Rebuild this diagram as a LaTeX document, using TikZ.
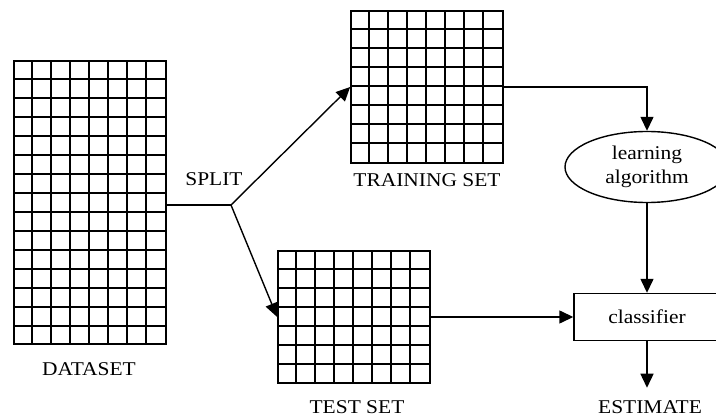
\documentclass[tikz,border=0pt]{standalone}
\usepackage{fontspec}
\setmainfont{Liberation Serif}[FakeStretch=1.1]
\usetikzlibrary{shapes.geometric,arrows.meta,positioning}

\begin{document}
\begin{tikzpicture}[x=1pt,y=-1pt,
		font=\fontsize{19.5}{24}\selectfont,
		data_block/.style ={rectangle, draw=black, line width=1.7pt,
			inner sep=0pt, minimum width=152pt},
		algo_block/.style ={ellipse, draw=black, line width=1.4pt,
			minimum width=164pt, minimum height=71pt, align=center, inner sep=0pt},
		clf_block/.style ={rectangle, draw=black, line width=1.4pt,
			minimum width=146pt, minimum height=47pt},
		caption/.style ={inner sep=0pt},
		line/.style ={draw, line width=1.4pt, -{Triangle[length=14pt,width=13pt]}, shorten >=0pt}]

	\useasboundingbox (0,0) rectangle (716,417);
	\clip (0,0) rectangle (716,417);

	% data sets
	\node [data_block, minimum height=283pt] (dataset) at (90,202.5) {};
	\node [data_block, minimum height=152pt] (train) at (427,87) {};
	\node [data_block, minimum height=132pt] (test) at (354,317) {};
	% grid cells inside each set
	\foreach \set/\rows in {dataset/14, train/7, test/6} {
		\foreach \i in {1,...,7}
			\draw [line width=1.7pt] ([xshift=\i*19pt]\set.north west) -- ([xshift=\i*19pt]\set.south west);
		\foreach \j in {1,...,\rows}
			\draw [line width=1.7pt] ([yshift=-\j*19pt]\set.north west) -- ([yshift=-\j*19pt]\set.north east);
	}

	% learning algorithm and classifier
	\node [algo_block] (algo) at (647,167) {learning\\algorithm};
	\node [clf_block] (clf) at (647,317) {classifier};

	% captions
	\node [caption] (dslabel) at (89,369) {DATASET};
	\node [caption] (splitlabel) at (214,179) {SPLIT};
	\node [caption] (trlabel) at (427,180) {TRAINING SET};
	\node [caption] (telabel) at (357,407) {TEST SET};
	\node [caption, inner ysep=12.5pt] (est) at (650,407) {ESTIMATE};

	\coordinate (split) at (231,205);

	% connecting nodes with paths
	\draw [line width=1.4pt] (dataset.east |- split) -- (split);
	\begin{scope}[every path/.style=line]
		\path (split) -- (train.west);
		\path (split) -- (test.west);
		\path (train.east) -| (algo.north);
		\path (algo) -- (clf);
		\path (test) -- (clf);
		\path (clf) -- (clf.south |- est.north);
	\end{scope}
\end{tikzpicture}
\end{document}
